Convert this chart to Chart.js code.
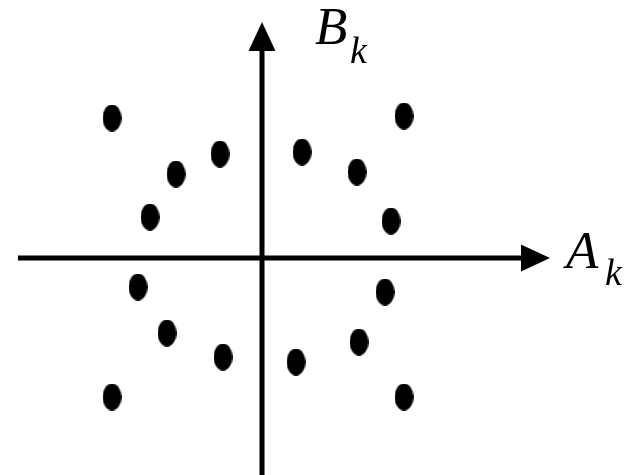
<!DOCTYPE html>
<html>
<head>
<meta charset="utf-8">
<script src="https://cdn.jsdelivr.net/npm/chart.js@4/dist/chart.umd.min.js"></script>
<style>
body { margin: 0; background: #fff; }
#wrap { position: relative; width: 627px; height: 475px; }
.lbl {
  position: absolute;
  font-family: "Liberation Serif", "Times New Roman", Times, "DejaVu Serif", serif;
  font-style: italic;
  color: #000;
  white-space: nowrap;
}
.big { font-size: 53px; line-height: 53px; }
.sub { font-size: 38px; line-height: 38px; }
</style>
</head>
<body>
<div id="wrap">
  <canvas id="chart" width="627" height="475"></canvas>
  <span id="yName" class="lbl big"></span>
  <span id="ySub" class="lbl sub"></span>
  <span id="xName" class="lbl big"></span>
  <span id="xSub" class="lbl sub"></span>
</div>
<script>
// point values (A_k, B_k)
const aValues = [-15.0, -4.2, -8.6, -11.2, 4.0, 9.5, 14.2, 12.9, -12.4, -9.5, -3.9, -15.0, 3.4, 9.7, 12.3, 14.2]
const bValues = [14.0, 10.4, 8.4, 4.1, 10.6, 8.6, 14.2, 3.7, -2.9, -7.5, -9.9, -13.9, -10.4, -8.4, -3.4, -13.9]

const xLabel = "A"
const yLabel = "B"
const subLabel = "k"

// axis extents in data units
const xAxisFrom = -24.4, xAxisTo = 28.8
const yAxisFrom = -21.7, yAxisTo = 23.6

let points = aValues.map((a, i) => ({ x: a, y: bValues[i] }))

// elliptical dot
let dot = document.createElement("canvas")
dot.width = 19
dot.height = 27
let dctx = dot.getContext("2d")
dctx.fillStyle = "#000"
dctx.beginPath()
dctx.ellipse(9.5, 13.5, 9.5, 13.5, 0, 0, Math.PI * 2)
dctx.fill()

function place(id, text, left, top) {
  let el = document.getElementById(id)
  el.innerText = text
  el.style.left = left + "px"
  el.style.top = top + "px"
}

// axes with arrows, labels placed next to the arrow tips
const axesPlugin = {
  id: "axes",
  beforeDatasetsDraw(chart) {
    let ctx = chart.ctx
    let x = chart.scales.x, y = chart.scales.y
    let ox = x.getPixelForValue(0), oy = y.getPixelForValue(0)
    let head = 29, half = 13.5

    ctx.save()
    ctx.strokeStyle = "#000"
    ctx.fillStyle = "#000"
    ctx.lineWidth = 5

    // horizontal
    let xs = x.getPixelForValue(xAxisFrom), xe = x.getPixelForValue(xAxisTo)
    ctx.beginPath()
    ctx.moveTo(xs, oy)
    ctx.lineTo(xe - head + 1, oy)
    ctx.stroke()
    ctx.beginPath()
    ctx.moveTo(xe, oy)
    ctx.lineTo(xe - head, oy - half)
    ctx.lineTo(xe - head, oy + half)
    ctx.closePath()
    ctx.fill()

    // vertical
    let ys = y.getPixelForValue(yAxisFrom), ye = y.getPixelForValue(yAxisTo)
    ctx.beginPath()
    ctx.moveTo(ox, ys)
    ctx.lineTo(ox, ye + head - 1)
    ctx.stroke()
    ctx.beginPath()
    ctx.moveTo(ox, ye)
    ctx.lineTo(ox - half, ye + head)
    ctx.lineTo(ox + half, ye + head)
    ctx.closePath()
    ctx.fill()
    ctx.restore()

    place("yName", yLabel, ox + 53, 0)
    place("ySub", subLabel, ox + 88, 31)
    place("xName", xLabel, xe + 16, oy - 34)
    place("xSub", subLabel, xe + 55, oy - 5)
  }
}

new Chart(document.getElementById("chart").getContext("2d"), {
  type: "scatter",
  data: {
    datasets: [{
      data: points,
      pointStyle: dot,
      backgroundColor: "#000",
      borderColor: "#000"
    }]
  },
  options: {
    responsive: false,
    animation: false,
    layout: { padding: 0, autoPadding: false },
    scales: {
      x: { type: "linear", display: false, min: -26.2, max: 36.5 },
      y: { type: "linear", display: false, min: -21.7, max: 25.8 }
    },
    plugins: {
      legend: { display: false },
      tooltip: { enabled: false }
    }
  },
  plugins: [axesPlugin]
})
</script>
</body>
</html>
